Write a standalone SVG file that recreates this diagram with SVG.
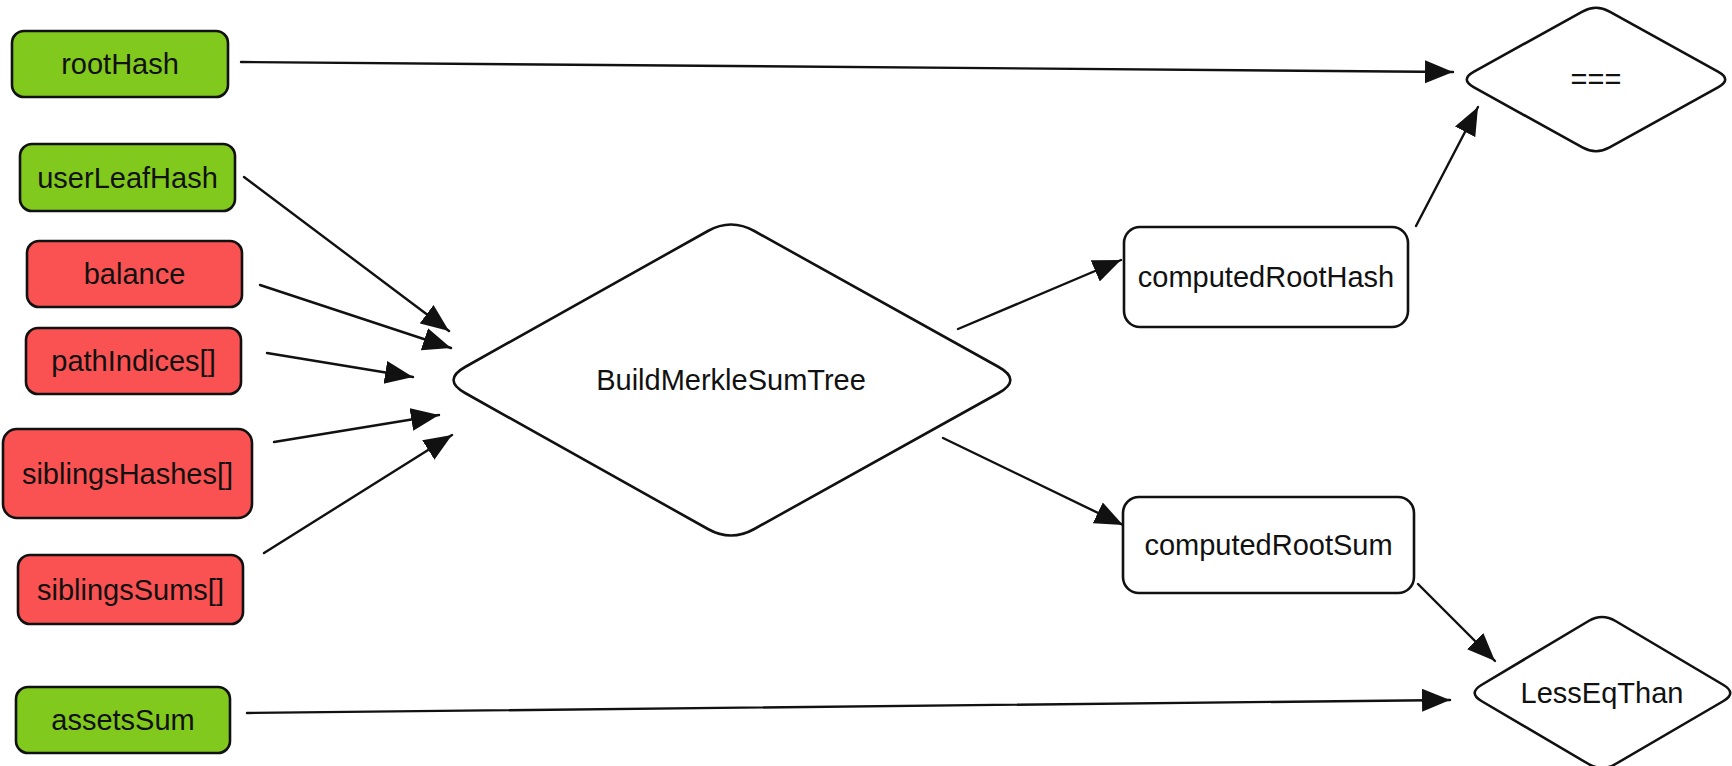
<svg xmlns="http://www.w3.org/2000/svg" width="1732" height="766" viewBox="0 0 1732 766">
  <style>
    .box { stroke: #111111; stroke-width: 2.6; }
    .green { fill: #82c91e; }
    .red { fill: #fa5252; }
    .white { fill: #ffffff; }
    .lbl { font-family: "Liberation Sans", Arial, sans-serif; font-size: 29px; fill: #111111; text-anchor: middle; }
    .conn { stroke: #111111; stroke-width: 2.4; fill: none; marker-end: url(#ah); stroke-linecap: round; }
  </style>
  <defs>
    <marker id="ah" markerUnits="userSpaceOnUse" markerWidth="30" markerHeight="24" refX="28" refY="11.5" orient="auto">
      <path d="M0,0 L28,11.5 L0,23 Z" fill="#111111"/>
    </marker>
  </defs>
  <rect width="1732" height="766" fill="#ffffff"/>

  <g id="connectors">
    <line class="conn" x1="241" y1="62" x2="1453" y2="72"/>
    <line class="conn" x1="244" y1="177" x2="449" y2="331"/>
    <line class="conn" x1="260" y1="285" x2="451" y2="348"/>
    <line class="conn" x1="267" y1="353" x2="413" y2="377"/>
    <line class="conn" x1="274" y1="442" x2="439" y2="415"/>
    <line class="conn" x1="264" y1="553" x2="452" y2="435"/>
    <line class="conn" x1="247" y1="713" x2="1450" y2="700"/>
    <line class="conn" x1="958" y1="329" x2="1121" y2="260"/>
    <line class="conn" x1="943" y1="438" x2="1123" y2="525"/>
    <line class="conn" x1="1416" y1="226" x2="1478" y2="107"/>
    <line class="conn" x1="1418" y1="584" x2="1495" y2="661"/>
  </g>

  <g id="rootHash">
    <rect class="box green" x="12" y="31" width="216" height="66" rx="12"/>
    <text class="lbl" x="120" y="74">rootHash</text>
  </g>
  <g id="userLeafHash">
    <rect class="box green" x="20" y="144" width="215" height="67" rx="12"/>
    <text class="lbl" x="127.5" y="187.5">userLeafHash</text>
  </g>
  <g id="balance">
    <rect class="box red" x="27" y="241" width="215" height="66" rx="12"/>
    <text class="lbl" x="134.5" y="284">balance</text>
  </g>
  <g id="pathIndices">
    <rect class="box red" x="26" y="328" width="215" height="66" rx="12"/>
    <text class="lbl" x="133.5" y="371">pathIndices[]</text>
  </g>
  <g id="siblingsHashes">
    <rect class="box red" x="3" y="429" width="249" height="89" rx="14"/>
    <text class="lbl" x="127.5" y="483.5">siblingsHashes[]</text>
  </g>
  <g id="siblingsSums">
    <rect class="box red" x="18" y="555" width="225" height="69" rx="12"/>
    <text class="lbl" x="130.5" y="599.5">siblingsSums[]</text>
  </g>
  <g id="assetsSum">
    <rect class="box green" x="16" y="687" width="214" height="66" rx="12"/>
    <text class="lbl" x="123" y="730">assetsSum</text>
  </g>

  <g id="BuildMerkleSumTree">
    <path class="box white" d="M754.3,231 L998.7,367 Q1022,380 998.7,393 L754.3,529 Q731,542 707.9,529 L465.1,393 Q442,380 465.1,367 L707.9,231 Q731,218 754.3,231 Z"/>
    <text class="lbl" x="731" y="390">BuildMerkleSumTree</text>
  </g>

  <g id="computedRootHash">
    <rect class="box white" x="1124" y="227" width="284" height="100" rx="16"/>
    <text class="lbl" x="1266" y="287">computedRootHash</text>
  </g>
  <g id="computedRootSum">
    <rect class="box white" x="1123" y="497" width="291" height="96" rx="16"/>
    <text class="lbl" x="1268.5" y="555">computedRootSum</text>
  </g>

  <g id="equals">
    <path class="box white" d="M1609.6,11.55 L1718.4,71.95 Q1732,79.5 1718.4,87.05 L1609.6,147.45 Q1596,155 1582.4,147.45 L1473.6,87.05 Q1460,79.5 1473.6,71.95 L1582.4,11.55 Q1596,4 1609.6,11.55 Z"/>
    <text class="lbl" x="1596" y="89">===</text>
  </g>
  <g id="LessEqThan">
    <path class="box white" d="M1615.5,621 L1723.5,685 Q1737,693 1723.5,701 L1615.5,764 Q1602,772 1588.6,764 L1481.4,701 Q1468,693 1481.4,685 L1588.6,621 Q1602,613 1615.5,621 Z"/>
    <text class="lbl" x="1602" y="703">LessEqThan</text>
  </g>
</svg>
